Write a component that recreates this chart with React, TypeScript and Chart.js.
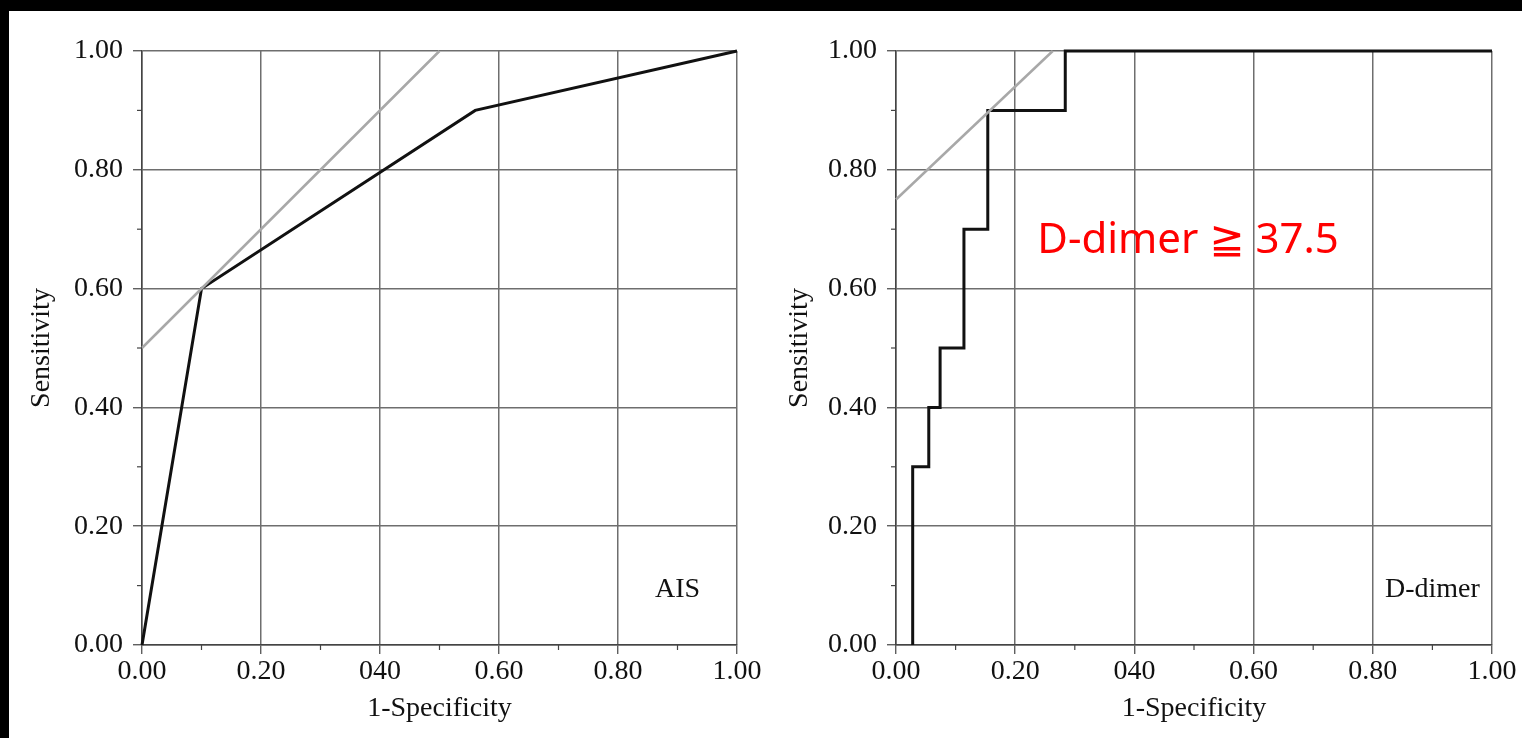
import React, { useEffect, useRef } from 'react';
import { Chart, registerables } from 'chart.js';

Chart.register(...registerables);

// ---- data ----
const xTickLabels = ['0.00', '0.20', '040', '0.60', '0.80', '1.00'];
const yTickLabels = ['0.00', '0.20', '0.40', '0.60', '0.80', '1.00'];

// AIS ROC curve
const aisFpr = [0, 0.10, 0.56, 1.0];
const aisTpr = [0, 0.60, 0.90, 1.0];
// AIS tangent (grey) line
const aisRefX = [0, 0.50];
const aisRefY = [0.50, 1.0];

// D-dimer ROC steps
const ddFpr = [0.028, 0.055, 0.074, 0.114, 0.154, 0.284];
const ddTpr = [0.30, 0.40, 0.50, 0.70, 0.90, 1.00];
// D-dimer tangent (grey) line
const ddRefX = [0, 0.263];
const ddRefY = [0.75, 1.0];

const SERIF = '"Liberation Serif", "Times New Roman", serif';
const FS = 28;

function pts(xs: number[], ys: number[]) {
  return xs.map((x, i) => ({ x, y: ys[i] }));
}

function stepPts(xs: number[], ys: number[]) {
  const out: { x: number; y: number }[] = [{ x: xs[0], y: 0 }];
  xs.forEach((x, i) => {
    out.push({ x, y: ys[i] });
    const nx = i + 1 < xs.length ? xs[i + 1] : 1.0;
    out.push({ x: nx, y: ys[i] });
  });
  return out;
}

const minorTicksPlugin = {
  id: 'minorTicks',
  afterDraw(chart: any) {
    const { ctx, chartArea, scales } = chart;
    ctx.save();
    ctx.strokeStyle = '#444';
    ctx.lineWidth = 1.2;
    [0.1, 0.3, 0.5, 0.7, 0.9].forEach((v) => {
      const px = scales.x.getPixelForValue(v);
      ctx.beginPath();
      ctx.moveTo(px, chartArea.bottom);
      ctx.lineTo(px, chartArea.bottom + 5);
      ctx.stroke();
      const py = scales.y.getPixelForValue(v);
      ctx.beginPath();
      ctx.moveTo(chartArea.left, py);
      ctx.lineTo(chartArea.left - 5, py);
      ctx.stroke();
    });
    ctx.restore();
  },
};

const annotPlugin = {
  id: 'annot',
  afterDatasetsDraw(chart: any, _args: any, opts: any) {
    const { ctx, scales } = chart;
    (opts.items || []).forEach((it: any) => {
      ctx.save();
      ctx.font = it.font;
      ctx.fillStyle = it.color;
      ctx.textAlign = it.align;
      ctx.textBaseline = it.baseline;
      ctx.fillText(it.text, scales.x.getPixelForValue(it.x), scales.y.getPixelForValue(it.y));
      ctx.restore();
    });
  },
};

function makeConfig(datasets: any[], items: any[], yWidth: number): any {
  const gridColor = (c: any) => (c.index % 2 === 0 ? '#6e6e6e' : 'rgba(0,0,0,0)');
  const tickColor = (c: any) => (c.index % 2 === 0 ? '#444' : 'rgba(0,0,0,0)');
  return {
    type: 'line',
    data: { datasets },
    options: {
      animation: false,
      responsive: false,
      maintainAspectRatio: false,
      events: [],
      layout: { padding: { top: 40, right: 30, left: 0, bottom: 0 } },
      plugins: {
        legend: { display: false },
        tooltip: { enabled: false },
        annot: { items },
      },
      scales: {
        x: {
          type: 'linear',
          min: 0,
          max: 1,
          afterFit: (s: any) => { s.height = 93; },
          ticks: {
            stepSize: 0.1,
            autoSkip: false,
            maxRotation: 0,
            padding: 1,
            color: '#111',
            font: { family: SERIF, size: FS },
            callback: (_v: any, i: number) => (i % 2 === 0 ? xTickLabels[i / 2] : ''),
          },
          grid: { color: gridColor, lineWidth: 1.5, tickColor, tickLength: 9, tickWidth: 1.2 },
          border: { color: '#444', width: 1.5 },
          title: {
            display: true,
            text: '1-Specificity',
            color: '#111',
            font: { family: SERIF, size: FS },
            padding: { top: 0, bottom: 13 },
          },
        },
        y: {
          type: 'linear',
          min: 0,
          max: 1,
          afterFit: (s: any) => { s.width = yWidth; },
          ticks: {
            stepSize: 0.1,
            autoSkip: false,
            padding: 10,
            color: '#111',
            font: { family: SERIF, size: FS },
            callback: (_v: any, i: number) => (i % 2 === 0 ? yTickLabels[i / 2] : ''),
          },
          grid: { color: gridColor, lineWidth: 1.5, tickColor, tickLength: 9, tickWidth: 1.2 },
          border: { color: '#444', width: 1.5 },
          title: {
            display: true,
            text: 'Sensitivity',
            color: '#111',
            font: { family: SERIF, size: FS },
            padding: { top: 16, bottom: 0 },
          },
        },
      },
    },
    plugins: [minorTicksPlugin, annotPlugin],
  };
}

function RocChart(props: { datasets: any[]; items: any[]; yWidth: number; style: React.CSSProperties; w: number; h: number }) {
  const ref = useRef<HTMLCanvasElement | null>(null);
  useEffect(() => {
    if (!ref.current) return;
    const chart = new Chart(ref.current, makeConfig(props.datasets, props.items, props.yWidth));
    return () => chart.destroy();
  }, []);
  return (
    <div style={{ position: 'absolute', ...props.style, width: props.w, height: props.h }}>
      <canvas ref={ref} width={props.w} height={props.h} style={{ width: props.w, height: props.h, display: 'block' }} />
    </div>
  );
}

const lineBase = { pointRadius: 0, fill: false, tension: 0, clip: 6 };

export default function App() {
  const aisDatasets = [
    { ...lineBase, data: pts(aisRefX, aisRefY), borderColor: '#a8a8a8', borderWidth: 2.5 },
    { ...lineBase, data: pts(aisFpr, aisTpr), borderColor: '#111', borderWidth: 3 },
  ];
  const ddDatasets = [
    { ...lineBase, data: pts(ddRefX, ddRefY), borderColor: '#a8a8a8', borderWidth: 2.5 },
    { ...lineBase, data: stepPts(ddFpr, ddTpr), borderColor: '#111', borderWidth: 3 },
  ];
  const aisItems = [
    { x: 0.9, y: 0.093, text: 'AIS', font: `${FS}px ${SERIF}`, color: '#111', align: 'center', baseline: 'middle' },
  ];
  const ddItems = [
    { x: 0.9, y: 0.093, text: 'D-dimer', font: `${FS}px ${SERIF}`, color: '#111', align: 'center', baseline: 'middle' },
    { x: 0.237, y: 0.66, text: 'D-dimer ≧ 37.5', font: '42px "Noto Sans", "DejaVu Sans", sans-serif', color: '#ff0000', align: 'left', baseline: 'alphabetic' },
  ];
  return (
    <div style={{ position: 'fixed', left: 0, top: 0, width: 1522, height: 738, background: '#000', overflow: 'hidden' }}>
      <div style={{ position: 'absolute', left: 9, top: 11, right: 0, bottom: 0, background: '#fff' }} />
      <RocChart datasets={aisDatasets} items={aisItems} yWidth={133} style={{ left: 9, top: 11 }} w={758} h={727} />
      <RocChart datasets={ddDatasets} items={ddItems} yWidth={129} style={{ left: 767, top: 11 }} w={755} h={727} />
    </div>
  );
}
